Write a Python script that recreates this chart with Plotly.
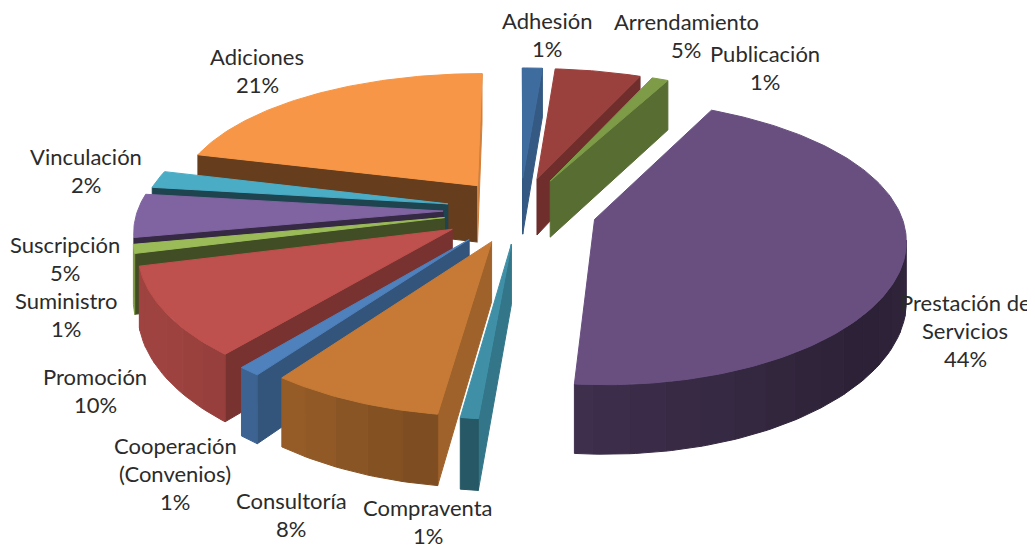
import math
import numpy as np
import plotly.graph_objects as go

categories = ["Adhesión", "Arrendamiento", "Publicación", "Prestación de Servicios", "Compraventa",
              "Consultoría", "Cooperación (Convenios)", "Promoción", "Suministro", "Suscripción",
              "Vinculación", "Adiciones"]
values = [1.2, 5.2, 1.0, 44.0, 0.8, 7.8, 1.0, 10.0, 1.0, 5.0, 2.0, 21.0]
percent_labels = ["1%", "5%", "1%", "44%", "1%", "8%", "1%", "10%", "1%", "5%", "2%", "21%"]
pull = [75, 75, 75, 78, 75, 75, 82, 80, 78, 78, 75, 72]
top_colors = ["#3F6C9F", "#9A403D", "#7E9B48", "#684F80", "#3F90A7", "#C67A35",
              "#4F81BD", "#BE504D", "#9BBB59", "#8064A2", "#4BACC6", "#F79646"]
label_lines = [["Adhesión"], ["Arrendamiento"], ["Publicación"], ["Prestación de", "Servicios"], ["Compraventa"],
               ["Consultoría"], ["Cooperación", "(Convenios)"], ["Promoción"], ["Suministro"], ["Suscripción"],
               ["Vinculación"], ["Adiciones"]]
label_anchor = [(547, 20), (686, 21), (765, 53), (965, 302), (428, 507), (291, 500), (175, 445),
                (95, 376), (66, 300), (65, 244), (86, 156), (257, 56)]
LINE = 28

CX, CY = 520, 210
R, H = 310, 58
K, D = 0.44, 2000
X_SCALE, X_POW = 0.985, 0.8


def proj(X, Y, Z=0.0):
    s = 1 / (1 - Y / D)
    return CX + X * X_SCALE * s ** X_POW, CY + (Y * K + Z) * s


def shade(col, f):
    r, g, b = [int(col[i:i + 2], 16) for i in (1, 3, 5)]
    return f"rgb({int(r * f)},{int(g * f)},{int(b * f)})"


def face_f(a):
    return float(np.interp(a % 360, [0, 90, 130, 165, 190, 270, 360], [.7, .85, .63, .42, .40, .68, .7]))


def wall_f(a):
    return float(np.interp(a % 360, [0, 90, 130, 184, 210, 235, 360], [.5, .5, .42, .6, .74, .84, .84]))


def area(pts):
    return sum(pts[i][0] * pts[(i + 1) % len(pts)][1] - pts[(i + 1) % len(pts)][0] * pts[i][1]
               for i in range(len(pts)))


fig = go.Figure()


def poly(pts, color, name):
    fig.add_trace(go.Scatter(x=[p[0] for p in pts] + [pts[0][0]], y=[p[1] for p in pts] + [pts[0][1]],
                             mode="lines", fill="toself", fillcolor=color,
                             line=dict(color=color, width=1), name=name,
                             hoverinfo="skip", showlegend=False))


total = sum(values)
edges = np.cumsum([0] + values) / total * 360
slices = []
for i, cat in enumerate(categories):
    a0, a1 = edges[i], edges[i + 1]
    m = math.radians((a0 + a1) / 2)
    slices.append((pull[i] * -math.cos(m), i, a0, a1, m))

BAND = 6
for _, i, a0, a1, m in sorted(slices):
    col = top_colors[i]
    tx, ty = pull[i] * math.sin(m), -pull[i] * math.cos(m)
    n = max(BAND, int(a1 - a0) + 1)
    angs = np.radians(np.linspace(a0, a1, n + 1))
    rim = [(tx + R * math.sin(a), ty - R * math.cos(a)) for a in angs]

    # radial cut faces
    for (rx, ry), sign, nrm in ((rim[0], -1, a0 - 90), (rim[-1], 1, a1 + 90)):
        q = [proj(tx, ty), proj(rx, ry), proj(rx, ry, H), proj(tx, ty, H)]
        if area(q) * sign > 0:
            poly(q, shade(col, face_f(nrm)), categories[i])

    # outer wall, drawn as shaded bands of several rim steps each
    for j in range(0, n, BAND):
        seg = rim[j:j + BAND + 1]
        q = [proj(*p) for p in seg] + [proj(*p, H) for p in reversed(seg)]
        if area(q) < 0:
            mid = math.degrees(angs[min(j + BAND // 2, n)])
            poly(q, shade(col, wall_f(mid)), categories[i])

    # top
    poly([proj(tx, ty)] + [proj(*p) for p in rim], col, categories[i])

annotations = []
for lines, pct, (ax, ay) in zip(label_lines, percent_labels, label_anchor):
    for k, t in enumerate(lines + [pct]):
        annotations.append(dict(x=ax, y=ay + LINE * k, text=t, showarrow=False, xref="x", yref="y",
                                xanchor="center", yanchor="middle",
                                font=dict(family="Lato", size=22, color="#2b2b2b")))

# the page body has an 8 px margin, so the plot starts at pixel 8 of the window
fig.update_layout(
    width=1027, height=541, margin=dict(l=0, r=0, t=0, b=0),
    paper_bgcolor="white", plot_bgcolor="white", showlegend=False,
    xaxis=dict(range=[8, 1035], visible=False, fixedrange=True),
    yaxis=dict(range=[549, 8], visible=False, fixedrange=True),
    annotations=annotations,
)
fig.write_html("out.html", config=dict(displayModeBar=False))
